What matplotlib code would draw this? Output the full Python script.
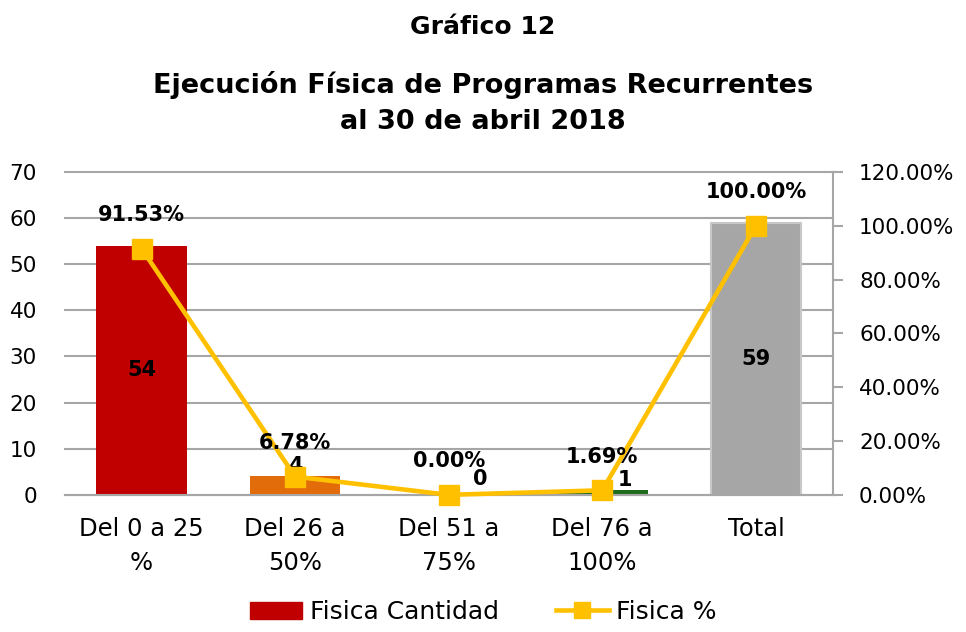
import matplotlib
matplotlib.use("Agg")
import matplotlib.pyplot as plt
from matplotlib.ticker import PercentFormatter
from matplotlib.patches import Patch
from matplotlib.lines import Line2D

# datos del grafico
categorias = ["Del 0 a 25\n%", "Del 26 a\n50%", "Del 51 a\n75%", "Del 76 a\n100%", "Total"]
cantidad = [54, 4, 0, 1, 59]
porcentaje = [0.9153, 0.0678, 0.0, 0.0169, 1.0]
colores = ["#C00000", "#E36C0A", "#E36C0A", "#1E6B1E", "#A6A6A6"]

plt.rcParams["font.family"] = ["DejaVu Sans"]

fig = plt.figure(figsize=(9.66, 6.32), dpi=100)
ax = fig.add_axes([0.067, 0.217, 0.795, 0.511])
ax2 = ax.twinx()

x = list(range(len(categorias)))
ax.bar(x, cantidad, width=0.59, color=colores, zorder=2,
       edgecolor=["none", "none", "none", "none", "#C8C8C8"], linewidth=1.5)

# etiquetas de las barras (desplazamientos aproximados como en el original)
desp = {1: 0, 2: 23, 3: 16}
for i, v in enumerate(cantidad):
    if v > 10:
        ax.text(i, v / 2, str(v), ha="center", va="center", fontsize=15, fontweight="bold", zorder=5)
    else:
        dy = 4 if v == 0 else 0
        ax.annotate(str(v), (i, v), xytext=(desp[i], dy), textcoords="offset points",
                    ha="center", va="bottom", fontsize=15, fontweight="bold", zorder=5)

ax.set_xlim(-0.5, 4.5)
ax.set_ylim(0, 70)
ax.set_yticks(range(0, 71, 10))
ax.set_xticks(x)
ax.set_xticklabels(categorias, fontsize=17.5, linespacing=1.5)
ax.tick_params(axis="y", labelsize=15.5, length=0, pad=20)
ax.tick_params(axis="x", length=0, pad=16)
ax.grid(axis="y", color="#A6A6A6", linewidth=1.5, zorder=0)
for gl in ax.get_ygridlines():
    gl.set_clip_on(False)
ax.set_axisbelow(True)
for s in ["top", "left", "right"]:
    ax.spines[s].set_visible(False)
ax.spines["bottom"].set_color("#A6A6A6")
ax.spines["bottom"].set_linewidth(1.5)

ax2.plot(x, porcentaje, color="#FFC000", linewidth=3.3, marker="s", markersize=14,
         zorder=4, clip_on=False)
for i, p in enumerate(porcentaje):
    ax2.annotate(f"{p * 100:.2f}%", (i, p), xytext=(0, 17), textcoords="offset points",
                 ha="center", va="bottom", fontsize=15, fontweight="bold", zorder=6)
ax2.set_ylim(0, 1.2)
ax2.set_yticks([0, 0.2, 0.4, 0.6, 0.8, 1.0, 1.2])
ax2.yaxis.set_major_formatter(PercentFormatter(1.0, decimals=2))
ax2.tick_params(axis="y", labelsize=15.5, color="#A6A6A6", width=1.5, length=7, pad=12)
for s in ["top", "left", "bottom"]:
    ax2.spines[s].set_visible(False)
ax2.spines["right"].set_color("#A6A6A6")
ax2.spines["right"].set_linewidth(1.5)
ax2.set_zorder(ax.get_zorder() + 1)
ax2.patch.set_visible(False)

fig.text(0.5, 1 - 27 / 632, "Gráfico 12", ha="center", va="center", fontsize=18, fontweight="bold")
fig.text(0.5, 1 - 85 / 632, "Ejecución Física de Programas Recurrentes",
         ha="center", va="center", fontsize=19.5, fontweight="bold")
fig.text(0.5, 1 - 122 / 632, "al 30 de abril 2018",
         ha="center", va="center", fontsize=19.5, fontweight="bold")

handles = [Patch(color="#C00000"),
           Line2D([0], [0], color="#FFC000", linewidth=3.3, marker="s", markersize=12)]
fig.legend(handles, ["Fisica Cantidad", "Fisica %"], loc="center", bbox_to_anchor=(0.5, 1 - 612 / 632),
           ncol=2, frameon=False, fontsize=18, handlelength=2.1, columnspacing=2.3, handletextpad=0.3)

fig.savefig("out.png", dpi=100)
